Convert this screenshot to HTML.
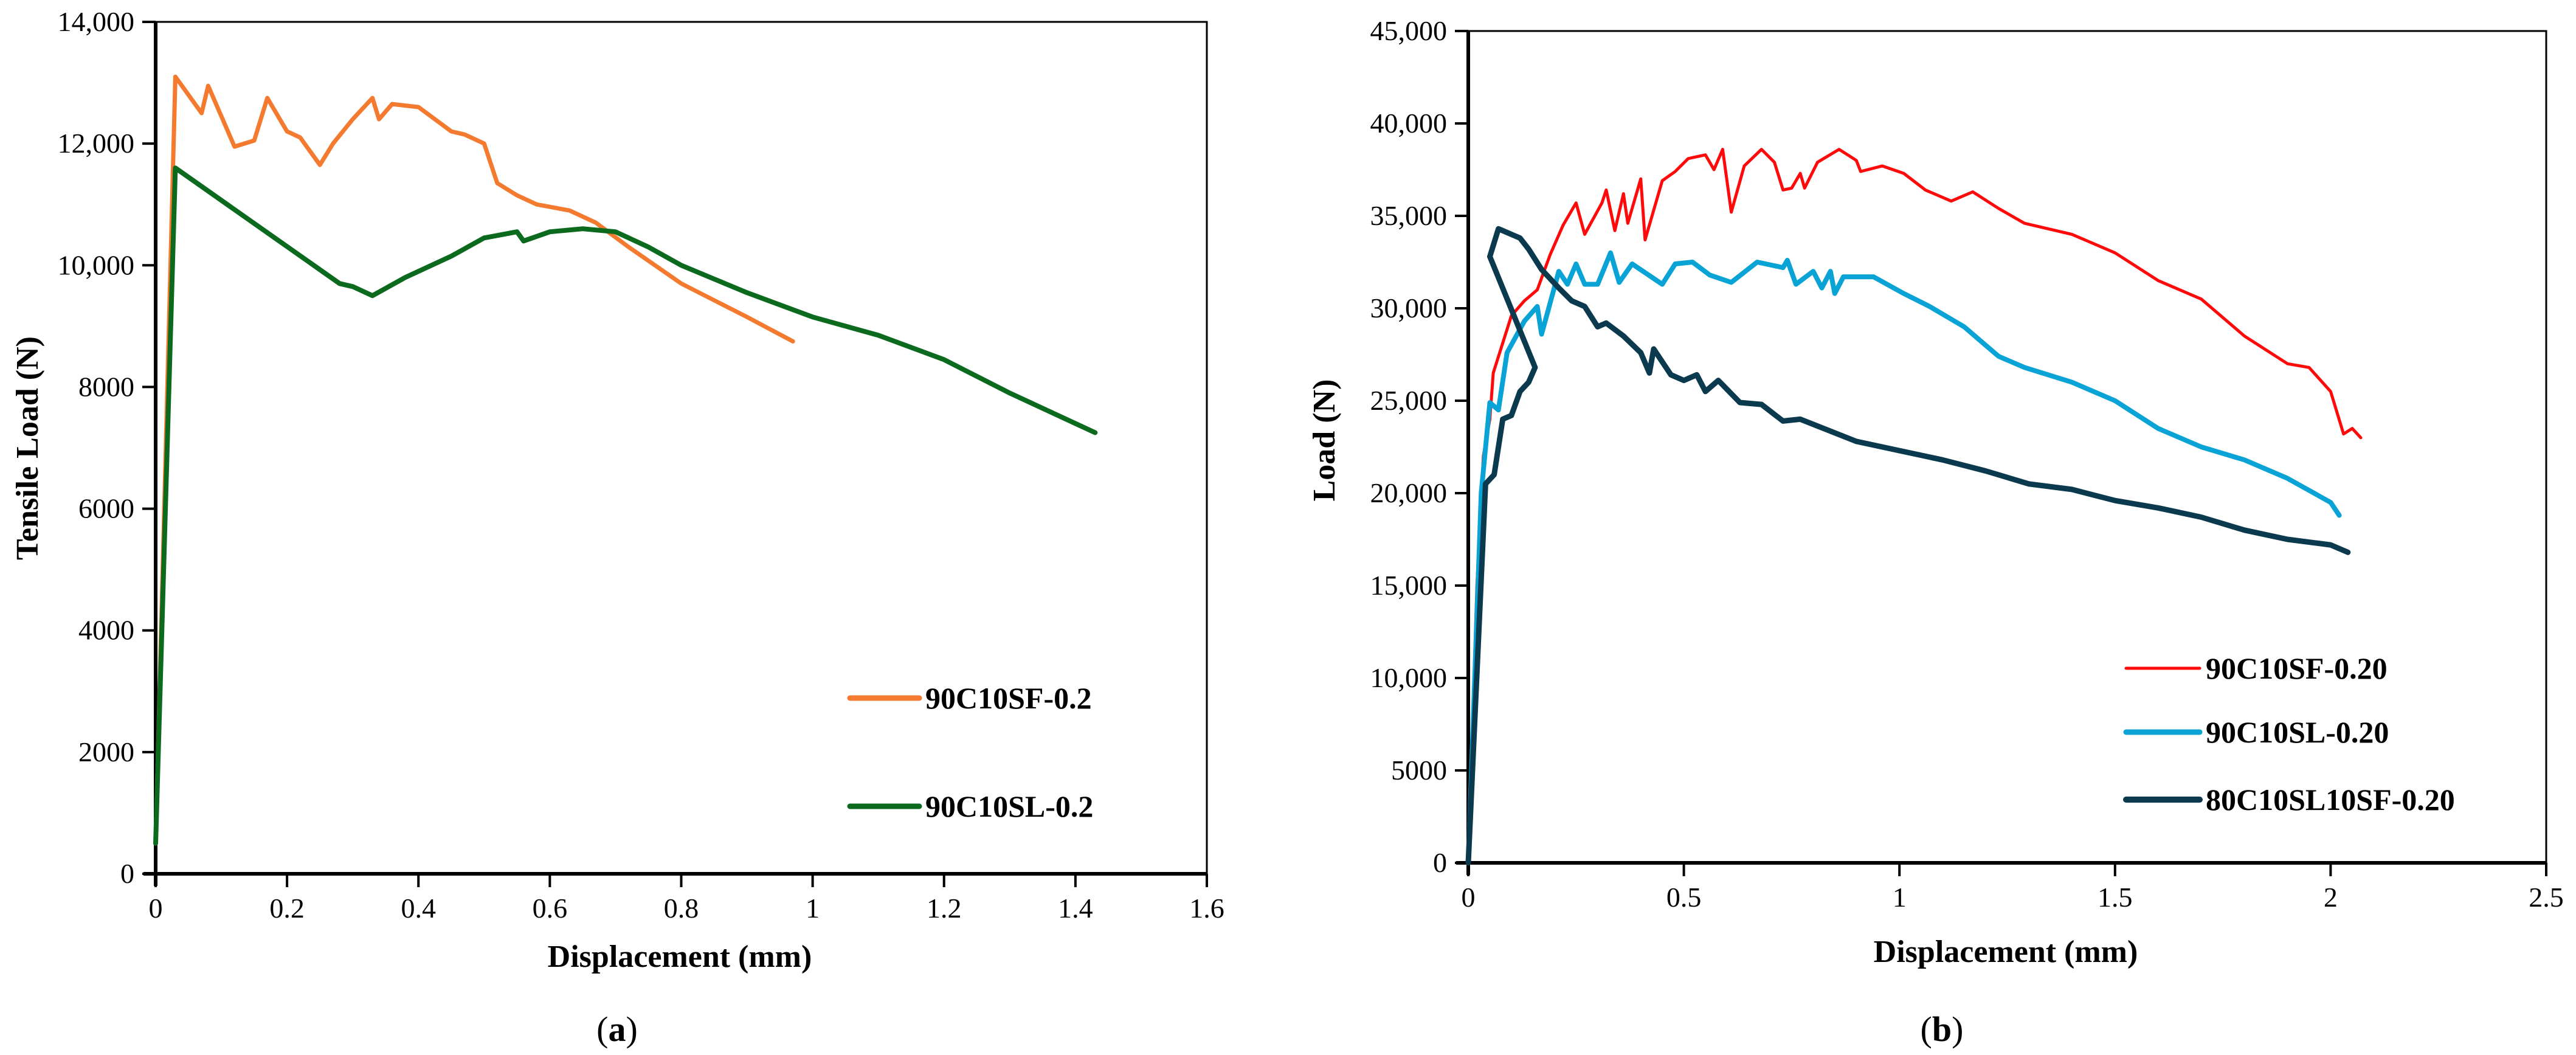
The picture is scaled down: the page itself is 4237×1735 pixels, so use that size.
<!DOCTYPE html>
<html><head><meta charset="utf-8"><style>
html,body{margin:0;padding:0;background:#fff;}
svg{display:block;}
text{font-family:"Liberation Serif","DejaVu Serif",serif;}
</style></head><body>
<svg id="fig" width="4237" height="1735" viewBox="0 0 4237 1735" xmlns="http://www.w3.org/2000/svg" font-family="Liberation Serif, DejaVu Serif, serif">
<g id="ca"></g>
<g id="cb"></g>
</svg>
<script>
// Chart (a) data
const aXTicks = [0,0.2,0.4,0.6,0.8,1,1.2,1.4,1.6];
const aXTickLabels = ["0","0.2","0.4","0.6","0.8","1","1.2","1.4","1.6"];
const aYTicks = [0,2000,4000,6000,8000,10000,12000,14000];
const aYTickLabels = ["0","2000","4000","6000","8000","10,000","12,000","14,000"];
const sfX = [0,0.03,0.07,0.08,0.12,0.15,0.17,0.2,0.22,0.25,0.27,0.3,0.33,0.34,0.36,0.4,0.45,0.47,0.5,0.52,0.55,0.58,0.63,0.67,0.72,0.8,0.9,0.97];
const sfY = [500,13100,12500,12950,11950,12050,12750,12200,12100,11650,12000,12400,12750,12400,12650,12600,12200,12150,12000,11350,11150,11000,10900,10700,10300,9700,9150,8750];
const slX = [0,0.03,0.28,0.3,0.33,0.38,0.45,0.5,0.55,0.56,0.6,0.65,0.7,0.75,0.8,0.9,1.0,1.1,1.2,1.3,1.43];
const slY = [500,11600,9700,9650,9500,9800,10150,10450,10550,10400,10550,10600,10550,10300,10000,9550,9150,8850,8450,7900,7250];
// Chart (b) data
const bXTicks = [0,0.5,1,1.5,2,2.5];
const bXTickLabels = ["0","0.5","1","1.5","2","2.5"];
const bYTicks = [0,5000,10000,15000,20000,25000,30000,35000,40000,45000];
const bYTickLabels = ["0","5000","10,000","15,000","20,000","25,000","30,000","35,000","40,000","45,000"];
const redX = [0,0.02,0.035,0.05,0.058,0.1,0.13,0.16,0.19,0.22,0.25,0.27,0.31,0.32,0.34,0.36,0.37,0.4,0.41,0.45,0.48,0.51,0.55,0.57,0.59,0.61,0.64,0.68,0.71,0.73,0.75,0.77,0.78,0.81,0.86,0.9,0.91,0.96,1.01,1.06,1.12,1.17,1.23,1.29,1.4,1.5,1.6,1.7,1.8,1.9,1.95,2.0,2.03,2.05,2.07];
const redY = [0,15000,22000,24000,26500,29600,30400,31000,32900,34500,35700,34000,35700,36400,34200,36200,34600,37000,33700,36900,37400,38100,38300,37500,38600,35200,37700,38600,37900,36400,36500,37300,36500,37900,38600,38000,37400,37700,37300,36400,35800,36300,35400,34600,34000,33000,31500,30500,28500,27000,26800,25500,23200,23500,23000];
const blueX = [0,0.03,0.05,0.07,0.09,0.13,0.16,0.17,0.21,0.23,0.25,0.27,0.3,0.33,0.35,0.38,0.45,0.48,0.52,0.56,0.61,0.67,0.73,0.74,0.76,0.8,0.82,0.84,0.85,0.87,0.94,1.01,1.07,1.15,1.2,1.23,1.29,1.4,1.5,1.6,1.7,1.8,1.9,2.0,2.02];
const blueY = [0,20000,24900,24500,27600,29300,30100,28600,32000,31300,32400,31300,31300,33000,31400,32400,31300,32400,32500,31800,31400,32500,32200,32600,31300,32000,31100,32000,30800,31700,31700,30800,30100,29000,28000,27400,26800,26000,25000,23500,22500,21800,20800,19500,18800];
const darkX = [0,0.04,0.06,0.08,0.1,0.12,0.14,0.155,0.05,0.07,0.12,0.14,0.17,0.21,0.24,0.27,0.3,0.32,0.36,0.4,0.42,0.43,0.47,0.5,0.53,0.55,0.58,0.63,0.68,0.73,0.77,0.9,1.0,1.1,1.2,1.3,1.4,1.5,1.6,1.7,1.8,1.9,2.0,2.04];
const darkY = [0,20500,21000,24000,24200,25500,26000,26800,32800,34300,33800,33200,32100,31100,30400,30100,29000,29200,28500,27600,26500,27800,26400,26100,26400,25500,26100,24900,24800,23900,24000,22800,22300,21800,21200,20500,20200,19600,19200,18700,18000,17500,17200,16800];

const NS = "http://www.w3.org/2000/svg";
const FF = '"Liberation Serif", "DejaVu Serif", serif';
function mk(parent, tag, attrs, text){
  const el = document.createElementNS(NS, tag);
  for (const k in attrs) el.setAttribute(k, attrs[k]);
  if (tag === 'text') el.setAttribute('font-family', FF);
  if (text !== undefined) el.textContent = text;
  parent.appendChild(el);
  return el;
}

function drawChart(g, cfg){
  const sx = v => cfg.x0 + (v - cfg.xmin)/(cfg.xmax - cfg.xmin)*(cfg.x1 - cfg.x0);
  const sy = v => cfg.y0 - (v - cfg.ymin)/(cfg.ymax - cfg.ymin)*(cfg.y0 - cfg.y1);
  const frame = mk(g,'rect',{x:cfg.x0,y:cfg.y1,width:cfg.x1-cfg.x0,height:cfg.y0-cfg.y1,fill:'none',stroke:'#000','stroke-width':3});
  
  
  const xl = mk(g,'line',{x1:cfg.x0-20,y1:cfg.y0,x2:cfg.x1,y2:cfg.y0,stroke:'#000','stroke-width':6});
  
  
  const yl = mk(g,'line',{x1:cfg.x0,y1:cfg.y1,x2:cfg.x0,y2:cfg.y0+20,stroke:'#000','stroke-width':6});
  
  
  cfg.yTicks.forEach((v,i)=>{
    const t = mk(g,'line',{x1:cfg.x0-22,y1:sy(v),x2:cfg.x0,y2:sy(v),stroke:'#000','stroke-width':4});
    
    
    const l = mk(g,'text',{x:cfg.x0-35,y:sy(v)+15,'text-anchor':'end','font-size':46},cfg.yLabels[i]);
    
    
  });
  cfg.xTicks.forEach((v,i)=>{
    const t = mk(g,'line',{x1:sx(v),y1:cfg.y0,x2:sx(v),y2:cfg.y0+22,stroke:'#000','stroke-width':4});
    
    
    const l = mk(g,'text',{x:sx(v),y:cfg.y0+72,'text-anchor':'middle','font-size':46},cfg.xLabels[i]);
    
    
  });
  cfg.series.forEach(s=>{
    const d = s.x.map((v,i)=>(i?'L':'M')+sx(v).toFixed(1)+' '+sy(s.y[i]).toFixed(1)).join(' ');
    const p = mk(g,'path',{d:d,fill:'none',stroke:s.color,'stroke-width':s.w,'stroke-linejoin':'round','stroke-linecap':'round'});
    
    
  });
  const xt = mk(g,'text',{x:cfg.xTitle[0],y:cfg.xTitle[1],'text-anchor':'middle','font-size':52,'font-weight':'bold'},'Displacement (mm)');
  
  
  const yt = mk(g,'text',{x:0,y:0,'text-anchor':'middle','font-size':52,'font-weight':'bold',transform:`translate(${cfg.yTitle[0]},${cfg.yTitle[1]}) rotate(-90)`},cfg.yTitleText);
  
  
  cfg.legend.forEach(e=>{
    const lg = mk(g,'g',{});
    
    
    mk(lg,'line',{x1:e.lx,y1:e.y,x2:e.lx+e.len,y2:e.y,stroke:e.color,'stroke-width':e.w,'stroke-linecap':'round'});
    mk(lg,'text',{x:e.lx+e.len+10,y:e.y+17,'font-size':50,'font-weight':'bold'},e.text);
  });
  const cap = mk(g,'text',{x:cfg.cap[0],y:cfg.cap[1],'text-anchor':'middle','font-size':58},'');
  
  
  mk(cap,'tspan',{},'(');
  mk(cap,'tspan',{'font-weight':'bold'},cfg.capLetter);
  mk(cap,'tspan',{},')');
}

drawChart(document.getElementById('ca'),{
  x0:256,x1:1985,y0:1437,y1:36,xmin:0,xmax:1.6,ymin:0,ymax:14000,
  xTicks:aXTicks,xLabels:aXTickLabels,yTicks:aYTicks,yLabels:aYTickLabels,
  series:[{x:sfX,y:sfY,color:'#F47A30',w:7,name:'series-90C10SF-0.2'},{x:slX,y:slY,color:'#0B6A1E',w:8,name:'series-90C10SL-0.2'}],
  xTitle:[1118,1590],yTitle:[62,737],yTitleText:'Tensile Load (N)',
  legend:[{lx:1398,len:114,y:1148,color:'#F47A30',w:9,text:'90C10SF-0.2'},{lx:1398,len:114,y:1326,color:'#0B6A1E',w:9,text:'90C10SL-0.2'}],
  cap:[1015,1712],capLetter:'a'
});
drawChart(document.getElementById('cb'),{
  x0:2415,x1:4188,y0:1419,y1:51,xmin:0,xmax:2.5,ymin:0,ymax:45000,
  xTicks:bXTicks,xLabels:bXTickLabels,yTicks:bYTicks,yLabels:bYTickLabels,
  series:[{x:redX,y:redY,color:'#FF0A0A',w:5,name:'series-90C10SF-0.20'},{x:blueX,y:blueY,color:'#0AA3D6',w:8,name:'series-90C10SL-0.20'},{x:darkX,y:darkY,color:'#0B3A4E',w:9,name:'series-80C10SL10SF-0.20'}],
  xTitle:[3299,1582],yTitle:[2195,724],yTitleText:'Load (N)',
  legend:[{lx:3497,len:121,y:1099,color:'#FF0A0A',w:5,text:'90C10SF-0.20'},{lx:3497,len:121,y:1204,color:'#0AA3D6',w:9,text:'90C10SL-0.20'},{lx:3497,len:121,y:1315,color:'#0B3A4E',w:10,text:'80C10SL10SF-0.20'}],
  cap:[3194,1712],capLetter:'b'
});
</script>
</body></html>
